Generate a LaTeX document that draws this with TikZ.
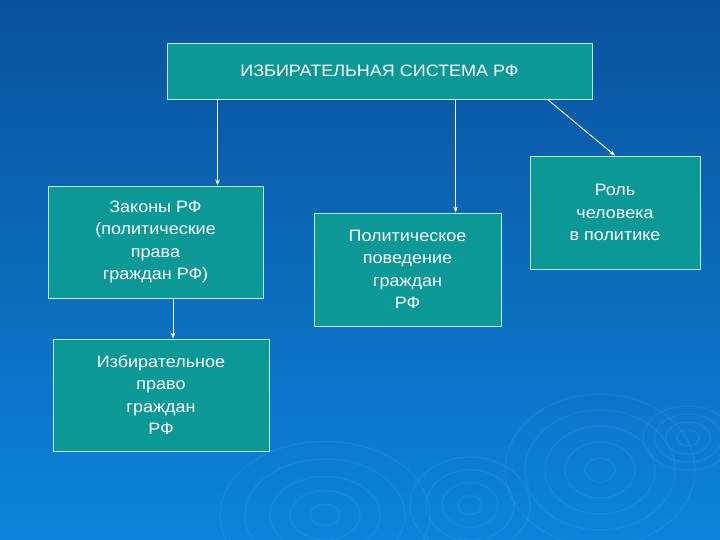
\documentclass[tikz,border=0pt]{standalone}
\usepackage{fontspec}
\setmainfont[FakeStretch=1.09]{Liberation Sans}
\usepackage{xcolor}
\usetikzlibrary{arrows.meta,positioning}

\definecolor{boxfill}{RGB}{12,152,150}
\definecolor{boxline}{RGB}{190,235,240}
\definecolor{bgtop}{RGB}{10,82,158}
\definecolor{bgbottom}{RGB}{12,132,218}

\begin{document}
\begin{tikzpicture}[
  x=1pt, y=-1pt,
  box/.style={draw=boxline, line width=0.9pt, fill=boxfill, align=center, text=white,
    font=\fontsize{16.5}{22.5}\selectfont, inner sep=0pt},
  arr/.style={-{Stealth[length=6pt,width=4.5pt]}, draw=white, line width=0.9pt},
  ripple/.style={draw=white, opacity=0.05, line width=1.5pt}
]
% background
\shade[top color=bgtop, bottom color=bgbottom] (0,0) rectangle (720,540);
\useasboundingbox (0,0) rectangle (720,540);

% ripples
\foreach \r in {8,16,24,32} \draw[ripple] (688,438) circle[x radius=\r*1.4, y radius=\r];
\foreach \r in {15,35,55,75,95} \draw[ripple] (600,470) circle[x radius=\r, y radius=\r*0.8];
\foreach \r in {12,28,44,60} \draw[ripple] (470,505) circle[x radius=\r, y radius=\r*0.8];
\foreach \r in {15,35,55,80,105} \draw[ripple] (325,515) circle[x radius=\r, y radius=\r*0.7];

\node[box, minimum width=425pt, minimum height=56pt] (sys) at (379.5,71) {ИЗБИРАТЕЛЬНАЯ СИСТЕМА РФ};

\node[box, minimum width=215pt, minimum height=112pt] (laws) at (155.5,242) {Законы РФ\\(политические\\права\\граждан РФ)};
\node[box, minimum width=216pt, minimum height=112pt] (right) at (161,395) {Избирательное\\право\\граждан\\РФ};
\node[box, minimum width=187pt, minimum height=113pt] (behav) at (407.5,269.5) {Политическое\\поведение\\граждан\\РФ};
\node[box, minimum width=170pt, minimum height=113pt] (role) at (615,212.5) {Роль\\человека\\в политике};

\draw[arr] ([xshift=51pt]sys.south west) -- ([xshift=51pt]sys.south west |- laws.north);
\draw[arr] ([xshift=289pt]sys.south west) -- ([xshift=289pt]sys.south west |- behav.north);
\draw[arr] ([xshift=381pt]sys.south west) -- (role.north);
\draw[arr] ([xshift=17.5pt]laws.south) -- ([xshift=17.5pt]laws.south |- right.north);
\end{tikzpicture}
\end{document}
